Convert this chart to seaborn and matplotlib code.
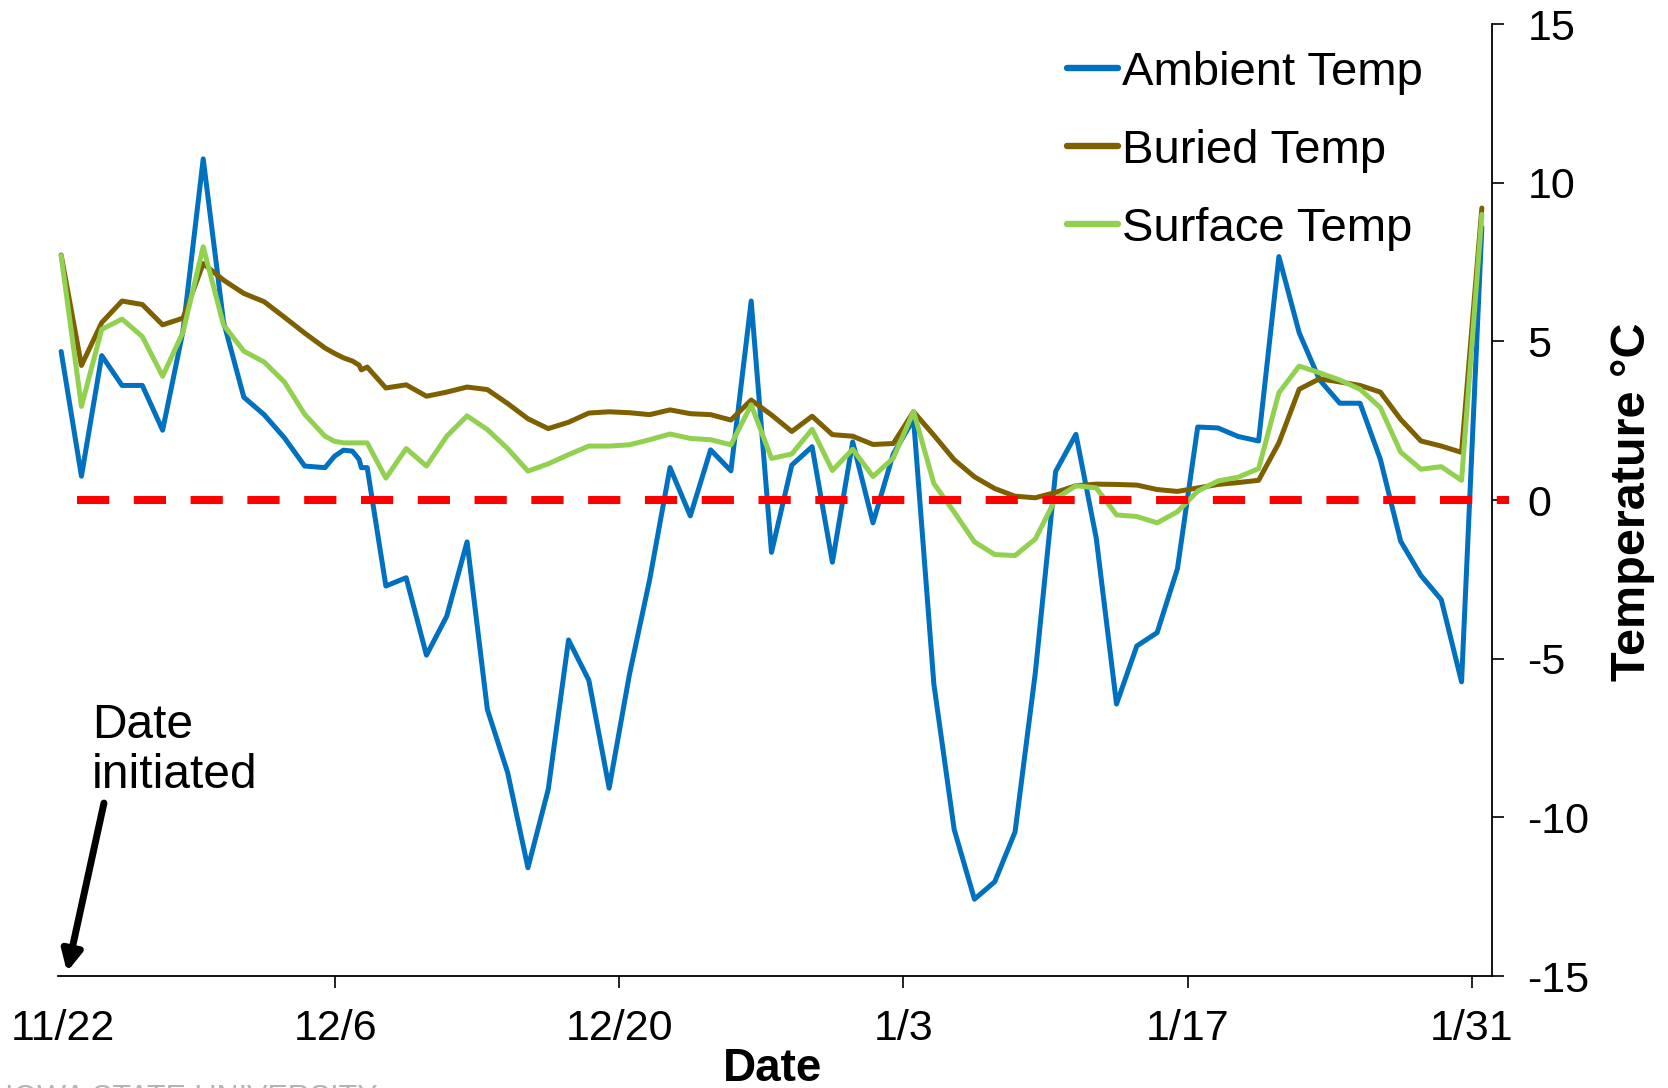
import matplotlib
matplotlib.use("Agg")
import matplotlib.pyplot as plt
from matplotlib.lines import Line2D
import numpy as np
import pandas as pd
import seaborn as sns

# Days counted from 11/22 00:00; daily means are plotted at midday.
# Around 12/5-12/7 the logger recorded at a finer interval.
day = ([k + 0.5 for k in range(14)]
       + [13.97, 14.41, 14.85, 15.18, 15.29, 15.58]
       + [k + 0.5 for k in range(16, 71)])

ambient = [4.68, 0.75, 4.55, 3.61, 3.61, 2.20, 5.31, 10.75, 5.62, 3.24, 2.69, 1.96, 1.07, 1.02,
           1.38, 1.57, 1.54, 1.28, 1.02, 1.02,
           -2.71, -2.45, -4.89, -3.66, -1.32, -6.60, -8.59, -11.59, -9.12, -4.41,
           -5.68, -9.08, -5.50, -2.50, 1.02, -0.50, 1.58, 0.92, 6.27, -1.65,
           1.10, 1.68, -1.96, 1.83, -0.72, 1.45, 2.55, -5.80, -10.38, -12.58,
           -12.03, -10.46, -5.44, 0.90, 2.07, -1.20, -6.43, -4.60, -4.18, -2.17,
           2.30, 2.27, 2.00, 1.86, 7.67, 5.27, 3.79, 3.05, 3.05, 1.28,
           -1.30, -2.38, -3.14, -5.73, 8.60]

buried = [7.72, 4.24, 5.59, 6.27, 6.16, 5.52, 5.73, 7.45, 6.93, 6.51, 6.25, 5.76, 5.26, 4.79,
          4.62, 4.48, 4.38, 4.25, 4.10, 4.19,
          3.53, 3.63, 3.27, 3.40, 3.56, 3.48, 3.04, 2.56, 2.25, 2.45,
          2.74, 2.78, 2.75, 2.69, 2.84, 2.72, 2.69, 2.52, 3.15, 2.68,
          2.16, 2.64, 2.06, 2.01, 1.75, 1.78, 2.78, 2.04, 1.27, 0.73,
          0.36, 0.12, 0.07, 0.24, 0.45, 0.50, 0.49, 0.47, 0.33, 0.27,
          0.38, 0.49, 0.55, 0.62, 1.80, 3.49, 3.82, 3.72, 3.61, 3.40,
          2.54, 1.86, 1.70, 1.50, 9.20]

surface = [7.70, 2.95, 5.38, 5.70, 5.15, 3.90, 5.28, 7.98, 5.52, 4.69, 4.35, 3.72, 2.70, 2.01,
           1.85, 1.80, 1.80, 1.80, 1.80, 1.80,
           0.69, 1.62, 1.07, 2.01, 2.65, 2.22, 1.62, 0.91, 1.14, 1.43,
           1.70, 1.70, 1.74, 1.90, 2.08, 1.94, 1.90, 1.74, 3.00, 1.31,
           1.45, 2.23, 0.93, 1.60, 0.74, 1.32, 2.79, 0.52, -0.38, -1.32,
           -1.72, -1.75, -1.23, 0.04, 0.45, 0.38, -0.47, -0.52, -0.72, -0.37,
           0.28, 0.60, 0.72, 0.99, 3.38, 4.22, 4.01, 3.78, 3.49, 2.91,
           1.51, 0.97, 1.05, 0.62, 9.00]

series_names = ["Ambient Temp", "Buried Temp", "Surface Temp"]
series_colors = ["#0070C0", "#7F6000", "#92D050"]

# freezing reference line (0 °C)
freeze_x = [1.28, 71.82]
freeze_y = [0.0, 0.0]

tick_days = [0.58, 14, 28, 42, 56, 70]
tick_labels = ["11/22", "12/6", "12/20", "1/3", "1/17", "1/31"]
y_ticks = [-15, -10, -5, 0, 5, 10, 15]

df = pd.DataFrame({
    "day": day * 3,
    "temp": ambient + buried + surface,
    "series": np.repeat(series_names, len(day)),
})

sns.set_theme(style="white")
plt.rcParams["font.family"] = ["Liberation Sans", "DejaVu Sans"]
plt.rcParams["axes.unicode_minus"] = False
plt.rcParams["text.color"] = "black"
plt.rcParams["axes.labelcolor"] = "black"

W, H = 1668, 1088
fig = plt.figure(figsize=(W / 100, H / 100), dpi=100)
ax = fig.add_axes([58.5 / W, 112 / H, 1433.5 / W, 952 / H])

sns.lineplot(data=df, x="day", y="temp", hue="series", hue_order=series_names,
             palette=series_colors, estimator=None, sort=False, linewidth=3.6,
             legend=False, ax=ax)

ax.plot(freeze_x, freeze_y, color="#FF0000", lw=5.8, dashes=(4, 3.05),
        dash_capstyle="butt", clip_on=False, zorder=5)

ax.set_xlim(0.37, 71.0)
ax.set_ylim(-15, 15)

ax.set_xticks(tick_days)
ax.set_xticklabels(tick_labels)
ax.yaxis.tick_right()
ax.yaxis.set_label_position("right")
ax.set_yticks(y_ticks)
ax.set_yticklabels([str(v) for v in y_ticks])

for s in ["left", "top"]:
    ax.spines[s].set_visible(False)
for s in ["bottom", "right"]:
    ax.spines[s].set_color("black")
    ax.spines[s].set_linewidth(1.3)

ax.tick_params(axis="x", bottom=True, direction="out", length=8.6, width=1.2,
               pad=15, labelsize=31, colors="black")
ax.tick_params(axis="y", right=True, left=False, labelright=True, labelleft=False,
               direction="out", length=8.6, width=1.2, pad=17, labelsize=31,
               colors="black")
ax.xaxis.get_major_ticks()[0].tick1line.set_visible(False)

ax.set_xlabel("Date", fontsize=33, fontweight="bold", color="black")
ax.xaxis.set_label_coords(0.498, -0.0975)
ax.xaxis.label.set_va("center")

ax.set_ylabel("Temperature °C", fontsize=35, fontweight="bold", color="black")
ax.yaxis.set_label_coords(1.098, 0.498)
ax.yaxis.label.set_va("center")

handles = [Line2D([], [], color=c, lw=4.6, solid_capstyle="round")
           for c in series_colors]
ax.legend(handles, series_names, loc="upper left",
          bbox_to_anchor=(1067 / W, 1 - 51 / H), bbox_transform=fig.transFigure,
          frameon=False, borderpad=0, borderaxespad=0, handlelength=1.08,
          handletextpad=0.08, labelspacing=0.72, fontsize=34, labelcolor="black")

ax.annotate("", xy=(0.79, -14.87), xytext=(2.61, -9.55),
            arrowprops=dict(arrowstyle="-|>,head_length=0.6,head_width=0.3",
                            color="black", lw=5, mutation_scale=20,
                            shrinkA=0, shrinkB=0),
            annotation_clip=False)
ax.text(2.02, -9.08, "Date\ninitiated", fontsize=34.5, ha="left", va="baseline",
        linespacing=1.15, color="black")

fig.text(0.003, 1 - 1084 / H, "IOWA STATE UNIVERSITY", fontsize=22,
         color="#b4b4b4", ha="left", va="top")

fig.savefig("out.png", dpi=100)
